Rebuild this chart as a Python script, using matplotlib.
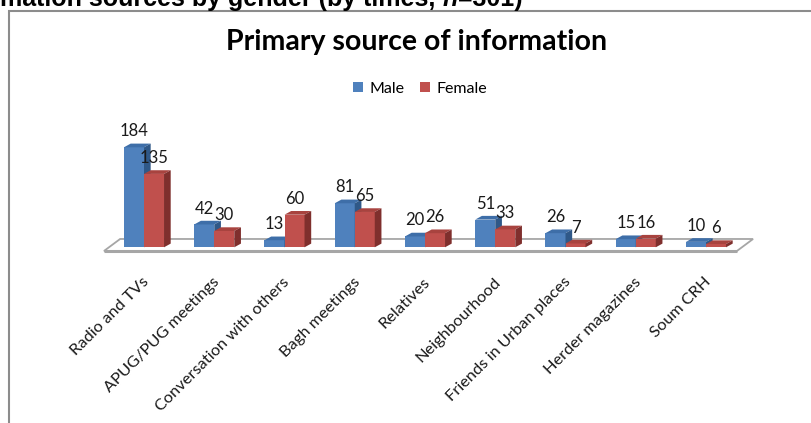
import matplotlib
matplotlib.use("Agg")
import matplotlib.pyplot as plt
from matplotlib.patches import Polygon, Rectangle, Patch

# data
categories = ["Radio and TVs", "APUG/PUG meetings", "Conversation with others",
              "Bagh meetings", "Relatives", "Neighbourhood",
              "Friends in Urban places", "Herder magazines", "Soum CRH"]
male = [184, 42, 13, 81, 20, 51, 26, 15, 10]
female = [135, 30, 60, 65, 26, 33, 7, 16, 6]

title = "Primary source of information"
heading = ["mation sources by gender (by times, ", "n", "=301)"]

# colours of the faces (front, top, side)
blue = ("#4F81BD", "#3E6EA8", "#2F5888")
red = ("#C0504D", "#A8433F", "#7F2F2D")

plt.rcParams['font.family'] = ['Lato', 'DejaVu Sans']

fig = plt.figure(figsize=(8.11, 4.23), dpi=100)
ax = fig.add_axes([0, 0, 1, 1])
# one category = 70.25 px, one unit = 0.5435 px, base line at y=247 px
ax.set_xlim(-144 / 70.25, (811 - 144) / 70.25)
ax.set_ylim((247.3 - 423) / 0.5435, 247.3 / 0.5435)
ax.axis('off')

bw = 0.285     # bar width
ddx = 0.095    # depth offset in x
ddy = 6.8      # depth offset in y

# floor
n = len(categories)
floor = Polygon([(-0.57, -6.8), (n - 1 + 0.44, -6.8),
                 (n - 1 + 0.67, 15.3), (-0.34, 15.3)],
                closed=True, facecolor="white", edgecolor="#a6a6a6", lw=1.3)
ax.add_patch(floor)
ax.plot([-0.57, n - 1 + 0.44], [-6.8, -6.8], color="#a6a6a6", lw=2.2,
        solid_capstyle='butt')


def bar3d(x0, h, cols):
    front, top, side = cols
    ax.add_patch(Rectangle((x0, 0), bw, h, facecolor=front, edgecolor='none'))
    ax.add_patch(Polygon([(x0, h), (x0 + bw, h), (x0 + bw + ddx, h + ddy),
                          (x0 + ddx, h + ddy)], closed=True,
                         facecolor=top, edgecolor='none'))
    ax.add_patch(Polygon([(x0 + bw, 0), (x0 + bw + ddx, ddy),
                          (x0 + bw + ddx, h + ddy), (x0 + bw, h)],
                         closed=True, facecolor=side, edgecolor='none'))


for i in range(n):
    bar3d(i - bw, male[i], blue)
    bar3d(i, female[i], red)
    ax.annotate(str(male[i]), (i - bw / 2, male[i]), xytext=(0, 11.5),
                textcoords='offset points', ha='center', va='center',
                fontsize=12, color="#1a1a1a")
    ax.annotate(str(female[i]), (i + bw / 2, female[i]), xytext=(0, 11.5),
                textcoords='offset points', ha='center', va='center',
                fontsize=12, color="#1a1a1a")
    ax.annotate(categories[i], (i, 0), xytext=(2.2, -23.5),
                textcoords='offset points', ha='right', va='center',
                rotation=45, rotation_mode='anchor', fontsize=11.8,
                color="#1a1a1a")

# chart area border (runs off the right and bottom)
fig.add_artist(Rectangle((9 / 811, -0.1), 1.1, (423 - 11) / 423 + 0.1,
                         transform=fig.transFigure, fill=False,
                         edgecolor="#8c8c8c", lw=1.5, clip_on=False))

fig.text(417 / 811, 1 - 42 / 423, title, ha='center', va='center',
         fontsize=20.5, fontweight='bold', color="black")

handles = [Patch(facecolor=blue[0]), Patch(facecolor=red[0])]
fig.legend(handles, ["Male", "Female"], loc='center',
           bbox_to_anchor=(420 / 811, 1 - 89 / 423), ncol=2, frameon=False,
           handlelength=0.6, handleheight=0.6, handletextpad=0.4,
           columnspacing=1.0, fontsize=11.5)

# heading of the page above the chart, mostly cut off
fig.canvas.draw()
r = fig.canvas.get_renderer()
xpos = 0.0
for k, part in enumerate(heading):
    t = fig.text(xpos, 1 - 6 / 423, part, ha='left', va='baseline',
                 fontsize=18, fontweight='bold',
                 fontstyle='italic' if k == 1 else 'normal',
                 family='Liberation Sans')
    bb = t.get_window_extent(renderer=r)
    xpos = bb.x1 / fig.bbox.width

fig.savefig("out.png", dpi=100)
